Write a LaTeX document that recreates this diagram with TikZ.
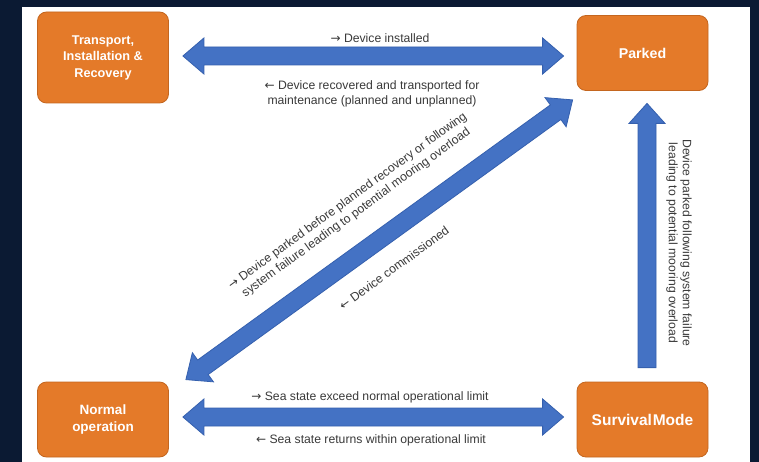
\documentclass[tikz,border=0pt]{standalone}
\usepackage{fontspec}
\setmainfont{Liberation Sans}
\newfontfamily\arrowfont{DejaVu Sans}
\usetikzlibrary{calc}
\definecolor{bgnavy}{HTML}{0B1A33}
\definecolor{boxorange}{HTML}{E47A29}
\definecolor{boxedge}{HTML}{C4661F}
\definecolor{arrblue}{HTML}{4472C4}
\definecolor{arredge}{HTML}{3560AE}
\definecolor{labelgray}{HTML}{3A3A3A}
\newcommand{\myra}{{\arrowfont\fontsize{12}{12}\selectfont →}}
\newcommand{\myla}{{\arrowfont\fontsize{12}{12}\selectfont ←}}
\newcommand{\fatdouble}[2]{%
  \coordinate (#1a) at ($(#1)!21pt!(#2)$);
  \coordinate (#1b) at ($(#2)!21pt!(#1)$);
  \draw[fatarrow] (#1)
    -- ($(#1a)!18pt!90:(#2)$) -- ($(#1a)!9pt!90:(#2)$)
    -- ($(#1b)!9pt!-90:(#1)$) -- ($(#1b)!18pt!-90:(#1)$)
    -- (#2)
    -- ($(#1b)!18pt!90:(#1)$) -- ($(#1b)!9pt!90:(#1)$)
    -- ($(#1a)!9pt!-90:(#2)$) -- ($(#1a)!18pt!-90:(#2)$)
    -- cycle;}
\newcommand{\fatsingle}[2]{%
  \coordinate (#2a) at ($(#2)!20pt!(#1)$);
  \draw[fatarrow] ($(#1)!9pt!90:(#2)$)
    -- ($(#2a)!9pt!-90:(#1)$) -- ($(#2a)!18pt!-90:(#1)$)
    -- (#2)
    -- ($(#2a)!18pt!90:(#1)$) -- ($(#2a)!9pt!90:(#1)$)
    -- ($(#1)!9pt!-90:(#2)$) -- cycle;}
\tikzset{
  state/.style={rectangle, rounded corners=9pt, fill=boxorange, draw=boxedge,
    line width=0.8pt, text=white, align=center, inner sep=0pt, minimum width=131pt},
  fatarrow/.style={fill=arrblue, draw=arredge, line width=0.8pt},
  lab/.style={text=labelgray, font=\fontsize{12.2}{15}\selectfont, align=center, inner sep=0pt}
}
\begin{document}
\begin{tikzpicture}[x=1pt,y=-1pt]
\fill[bgnavy] (0,0) rectangle (759,462);
\fill[white] (22,7) rectangle (750,462);
\useasboundingbox (0,0) rectangle (759,462);

\node[state, minimum height=91pt, font=\bfseries\fontsize{12.7}{16.5}\selectfont] (tir) at (103,57.5) {Transport,\\Installation \&\\Recovery};
\node[state, minimum height=75pt, font=\bfseries\fontsize{14.2}{17}\selectfont] (parked) at (642.5,53) {Parked};
\node[state, minimum height=75pt, font=\bfseries\fontsize{13.5}{17.5}\selectfont] (normal) at (103,419.5) {Normal\\operation};
\node[state, minimum height=75pt, font=\bfseries\fontsize{15.5}{17}\selectfont] (survival) at (642.5,419.5) {Survival\hspace{0.05em}Mode};

\coordinate (t1) at ($(tir.east)+(14,-1.5)$);
\coordinate (t2) at ($(parked.west)+(-13,3)$);
\coordinate (b1) at ($(normal.east)+(14,-2.5)$);
\coordinate (b2) at ($(survival.west)+(-13,-2.5)$);
\coordinate (d1) at ($(normal.north east)+(17,-2)$);
\coordinate (d2) at ($(parked.south west)+(-4,9)$);
\coordinate (v1) at ($(survival.north)+(4.5,-14)$);
\coordinate (v2) at ($(parked.south)+(4.5,12.5)$);

\fatdouble{t1}{t2}
\fatdouble{b1}{b2}
\fatdouble{d1}{d2}
\fatsingle{v1}{v2}

\node[lab] (linst) at (380,38) {\myra{} Device installed};
\node[lab] (lrec) at (372,93.5) {\myla{} Device recovered and transported for\\maintenance (planned and unplanned)};
\node[lab] (lexc) at (370,397) {\myra{} Sea state exceed normal operational limit};
\node[lab] (lret) at (371,440) {\myla{} Sea state returns within operational limit};
\node[lab, rotate=36, font=\fontsize{12.2}{14.5}\selectfont] (lpark) at (352,207) {\myra{} Device parked before planned recovery or following\\system failure leading to potential mooring overload};
\node[lab, rotate=36] (lcomm) at (394,268) {\myla{} Device commissioned};
\node[lab, rotate=-90, font=\fontsize{12.2}{14}\selectfont] (lsurv) at (679,243) {Device parked following system failure\\leading to potential mooring overload};
\end{tikzpicture}
\end{document}
